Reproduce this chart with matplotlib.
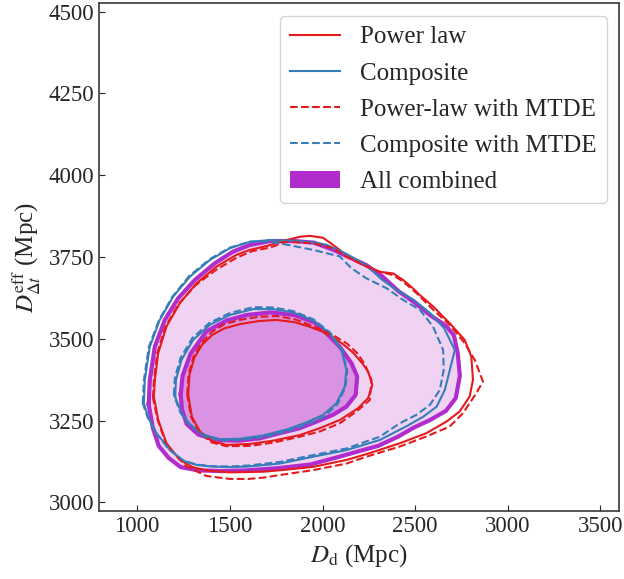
import numpy as np
import matplotlib
matplotlib.use("Agg")
from matplotlib import pyplot as plt
from matplotlib.lines import Line2D
from matplotlib.patches import Patch

plt.rcParams['font.family'] = ['Liberation Serif', 'DejaVu Serif']
plt.rcParams['mathtext.fontset'] = 'stix'

# contour vertices (D_d, D_dt_eff) in Mpc
# "All combined" 2 sigma / 1 sigma
comb_outer = np.array([
    (1062, 3300), (1068, 3374), (1095, 3476), (1149, 3558), (1221, 3624), (1311, 3680),
    (1419, 3731), (1518, 3767), (1608, 3787), (1719, 3799), (1848, 3799), (1955, 3794),
    (2063, 3771), (2149, 3748), (2235, 3726), (2321, 3692), (2407, 3647), (2493, 3613),
    (2580, 3573), (2666, 3540), (2709, 3511), (2730, 3455), (2741, 3387), (2719, 3319),
    (2666, 3280), (2580, 3252), (2493, 3229), (2407, 3201), (2300, 3173), (2192, 3156),
    (2085, 3139), (1934, 3116), (1762, 3105), (1590, 3098), (1461, 3096), (1331, 3098),
    (1235, 3108), (1170, 3136), (1116, 3173), (1084, 3229)])
comb_inner = np.array([
    (1235, 3331), (1245, 3387), (1288, 3455), (1374, 3523), (1482, 3556), (1590, 3573),
    (1719, 3581), (1848, 3573), (1955, 3551), (2021, 3517), (2093, 3476), (2156, 3426),
    (2187, 3385), (2179, 3329), (2129, 3293), (2057, 3268), (1967, 3247), (1877, 3227),
    (1770, 3212), (1662, 3196), (1554, 3189), (1446, 3190), (1331, 3207), (1267, 3240),
    (1241, 3286)])

# Power law
pl_outer = np.array([
    (1090, 3323), (1095, 3374), (1113, 3456), (1158, 3538), (1230, 3609), (1320, 3670),
    (1428, 3721), (1536, 3757), (1608, 3772), (1700, 3784), (1806, 3802), (1878, 3812),
    (1932, 3815), (2003, 3809), (2057, 3787), (2129, 3756), (2219, 3726), (2309, 3705),
    (2381, 3700), (2435, 3680), (2489, 3654), (2525, 3634), (2597, 3599), (2686, 3548),
    (2767, 3497), (2803, 3446), (2812, 3375), (2794, 3324), (2740, 3278), (2668, 3247),
    (2561, 3212), (2417, 3181), (2255, 3151), (2129, 3130), (1950, 3109), (1800, 3100),
    (1680, 3094), (1500, 3092), (1374, 3098), (1300, 3108), (1230, 3130), (1158, 3181),
    (1113, 3253)])
pl_inner = np.array([
    (1275, 3330), (1282, 3390), (1308, 3442), (1350, 3482), (1405, 3512), (1470, 3532),
    (1554, 3545), (1650, 3554), (1750, 3558), (1850, 3551), (1931, 3537), (2000, 3522),
    (2057, 3505), (2110, 3484), (2165, 3458), (2215, 3425), (2246, 3400), (2269, 3359),
    (2246, 3319), (2192, 3288), (2093, 3252), (1985, 3227), (1877, 3206), (1734, 3189),
    (1608, 3179), (1482, 3176), (1400, 3188), (1338, 3218), (1295, 3262)])

# Composite
comp_outer = np.array([
    (1036, 3303), (1041, 3374), (1068, 3476), (1122, 3558), (1194, 3629), (1284, 3690),
    (1392, 3741), (1500, 3777), (1608, 3797), (1719, 3802), (1840, 3800), (1950, 3795),
    (2020, 3788), (2128, 3760), (2235, 3726), (2321, 3681), (2407, 3647), (2493, 3619),
    (2580, 3579), (2655, 3534), (2714, 3466), (2687, 3405), (2660, 3344), (2616, 3293),
    (2543, 3262), (2453, 3233), (2309, 3191), (2129, 3160), (1950, 3140), (1770, 3119),
    (1600, 3110), (1500, 3108), (1400, 3110), (1320, 3115), (1250, 3127), (1176, 3161),
    (1104, 3212), (1060, 3260)])
comp_inner = np.array([
    (1205, 3323), (1209, 3374), (1239, 3436), (1302, 3497), (1392, 3543), (1500, 3573),
    (1626, 3591), (1734, 3591), (1842, 3581), (1950, 3556), (2039, 3517), (2102, 3466),
    (2129, 3405), (2120, 3354), (2075, 3303), (2004, 3268), (1914, 3245), (1806, 3223),
    (1680, 3205), (1554, 3195), (1446, 3193), (1356, 3207), (1284, 3240), (1239, 3272)])

# Power-law with MTDE
plm_outer = np.array([
    (1085, 3320), (1090, 3374), (1108, 3456), (1150, 3535), (1222, 3606), (1315, 3664),
    (1428, 3712), (1536, 3748), (1620, 3768), (1716, 3779), (1806, 3797), (1950, 3792),
    (2057, 3777), (2129, 3751), (2219, 3726), (2309, 3705), (2381, 3695), (2435, 3675),
    (2507, 3640), (2597, 3589), (2686, 3543), (2767, 3487), (2821, 3436), (2866, 3370),
    (2830, 3334), (2758, 3273), (2686, 3232), (2561, 3202), (2417, 3171), (2237, 3140),
    (2129, 3119), (1950, 3099), (1770, 3084), (1680, 3076), (1600, 3072), (1500, 3072),
    (1374, 3081), (1266, 3110), (1158, 3176), (1110, 3253)])
plm_inner = np.array([
    (1270, 3330), (1277, 3392), (1304, 3446), (1347, 3488), (1405, 3522), (1470, 3545),
    (1554, 3558), (1650, 3567), (1750, 3570), (1850, 3560), (1931, 3543), (2039, 3517),
    (2129, 3487), (2190, 3455), (2230, 3420), (2264, 3375), (2255, 3313), (2183, 3278),
    (2093, 3242), (1985, 3217), (1877, 3201), (1734, 3183), (1608, 3173), (1482, 3172),
    (1400, 3184), (1335, 3215), (1290, 3262)])

# Composite with MTDE
compm_outer = np.array([
    (1030, 3303), (1036, 3374), (1063, 3476), (1118, 3558), (1190, 3629), (1280, 3692),
    (1390, 3743), (1500, 3779), (1608, 3797), (1700, 3797), (1769, 3792), (1949, 3772),
    (2093, 3752), (2156, 3716), (2237, 3685), (2345, 3655), (2435, 3619), (2525, 3589),
    (2597, 3537), (2651, 3466), (2654, 3405), (2633, 3344), (2579, 3298), (2507, 3268),
    (2417, 3242), (2309, 3201), (2129, 3165), (1950, 3145), (1770, 3124), (1600, 3113),
    (1500, 3110), (1400, 3111), (1320, 3116), (1250, 3128), (1170, 3163), (1098, 3215),
    (1055, 3262)])
compm_inner = np.array([
    (1198, 3328), (1203, 3380), (1234, 3442), (1298, 3503), (1390, 3549), (1500, 3579),
    (1626, 3597), (1734, 3596), (1842, 3585), (1950, 3560), (2040, 3520), (2105, 3468),
    (2133, 3405), (2124, 3352), (2080, 3300), (2008, 3262), (1914, 3238), (1806, 3217),
    (1680, 3200), (1554, 3191), (1446, 3190), (1356, 3204), (1280, 3238), (1233, 3275)])

red = '#e41a1c'
blue = '#377eb8'
purple = '#b02ccd'


def closed(c):
    return np.vstack([c, c[:1]])


fig = plt.figure(figsize=(6.24, 5.79), dpi=100)
ax = fig.add_axes([0.159, 0.118, 0.833, 0.876])

# combined filled regions
ax.fill(comb_outer[:, 0], comb_outer[:, 1], color='#f0d3f3', lw=0, zorder=1)
ax.fill(comb_inner[:, 0], comb_inner[:, 1], color='#d993e2', lw=0, zorder=2)
for c in (comb_outer, comb_inner):
    cc = closed(c)
    ax.plot(cc[:, 0], cc[:, 1], color=purple, lw=3.0, zorder=3, solid_joinstyle='round')

# model contours
for c in (pl_outer, pl_inner):
    cc = closed(c)
    ax.plot(cc[:, 0], cc[:, 1], color=red, lw=1.5, zorder=4)
for c in (comp_outer, comp_inner):
    cc = closed(c)
    ax.plot(cc[:, 0], cc[:, 1], color=blue, lw=1.5, zorder=4)
for c in (plm_outer, plm_inner):
    cc = closed(c)
    ax.plot(cc[:, 0], cc[:, 1], color=red, lw=1.5, ls='--', zorder=4)
for c in (compm_outer, compm_inner):
    cc = closed(c)
    ax.plot(cc[:, 0], cc[:, 1], color=blue, lw=1.5, ls='--', zorder=4)

ax.set_xlim(795, 3600)
ax.set_ylim(2975, 4525)
ax.set_xticks([1000, 1500, 2000, 2500, 3000, 3500])
ax.set_yticks([3000, 3250, 3500, 3750, 4000, 4250, 4500])
ax.tick_params(direction='in', labelsize=16.5, colors='0.15', length=4)
for s in ax.spines.values():
    s.set_color('0.25')
    s.set_linewidth(1.25)

ax.set_xlabel(r'$D_{\rm d}$ (Mpc)', fontsize=18, color='0.15')
ax.set_ylabel(r'$D^{\rm eff}_{\Delta t}$ (Mpc)', fontsize=18, color='0.15')

handles = [
    Line2D([], [], color=red, lw=1.5),
    Line2D([], [], color=blue, lw=1.5),
    Line2D([], [], color=red, lw=1.5, ls='--'),
    Line2D([], [], color=blue, lw=1.5, ls='--'),
    Patch(facecolor=purple, edgecolor='none'),
]
labels = ['Power law', 'Composite', 'Power-law with MTDE', 'Composite with MTDE', 'All combined']
leg = ax.legend(handles, labels, loc='upper right', fontsize=18, labelspacing=0.55)
for t in leg.get_texts():
    t.set_color('0.15')

fig.savefig('out.png', dpi=100)
